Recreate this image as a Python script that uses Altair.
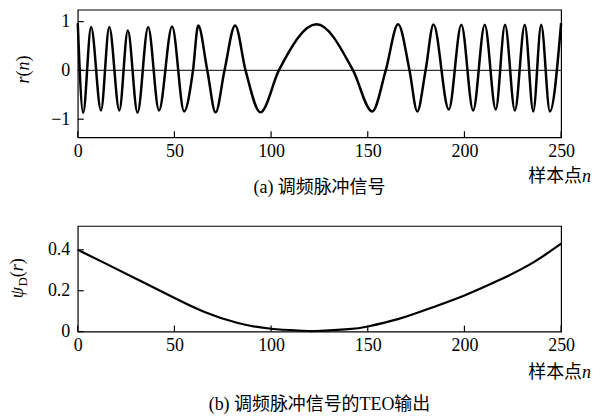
import altair as alt
import pandas as pd

# ---- data ----
# (a) FM pulse signal: positions / values of peaks, troughs and the zero crossings
sig_n = [0, 2.8, 6.9, 12.0, 16.3, 21.5, 25.9, 30.9, 36.4, 42.0, 48.8, 55.0,
         59.6, 62.3, 67.0, 71.3, 75.9, 81.4, 86.8, 94.5, 104.0, 123.5, 142.4,
         152.3, 159.3, 165.7, 171.6, 175.6, 179.9, 184.0, 191.9,
         198.4, 204.5, 210.5, 216.2, 221.0, 226.1, 231.2, 235.6, 239.7, 244.2, 250]
sig_v = [0.97, -0.87, 0.89, -0.82, 0.89, -0.82, 0.82, -0.87, 0.89, -0.82, 0.90, -0.84,
         0.0, 0.92, 0.0, -0.86, 0.0, 0.92, 0.0, -0.86, 0.0, 0.945, 0.0,
         -0.84, 0.0, 0.945, 0.0, -0.84, 0.0, 0.94, -0.80,
         0.935, -0.82, 0.935, -0.80, 0.935, -0.82, 0.935, -0.84, 0.935, -0.84, 0.97]

# (b) TEO output
teo_n = [0, 14, 31, 48.5, 65.6, 82.8, 100, 117, 123, 140, 150, 166, 183, 200, 218, 235, 250]
teo_v = [0.40, 0.335, 0.255, 0.172, 0.096, 0.042, 0.014, 0.004, 0.003, 0.012, 0.025,
         0.062, 0.117, 0.177, 0.252, 0.335, 0.43]

x_ticks = [0, 50, 100, 150, 200, 250]
top_y_ticks = [-1, 0, 1]
bot_y_ticks = [0, 0.2, 0.4]

top_caption = "(a) 调频脉冲信号"
bot_caption = "(b) 调频脉冲信号的TEO输出"
x_title = "样本点"

# ---- styling ----
SERIF = "Liberation Serif"
MIXED = "Liberation Serif, Noto Sans CJK SC"
W = 485
H1 = 128
H2 = 106


def xenc():
    return alt.X("n:Q", scale=alt.Scale(domain=[0, 250], nice=False, zero=False),
                 axis=alt.Axis(values=x_ticks, ticks=False, domain=False, grid=False,
                               labelFont=SERIF, labelFontSize=18, labelColor="black",
                               labelPadding=5, labelFlush=False, title=None, format="d"))


def yenc(domain, ticks):
    return alt.Y("v:Q", scale=alt.Scale(domain=domain, nice=False, zero=False),
                 axis=alt.Axis(values=ticks, ticks=False, domain=False, grid=False,
                               labelFont=SERIF, labelFontSize=18, labelColor="black",
                               labelPadding=8, labelFlush=False, title=None, format=".1~f"))


def txt(s, x, y, size=18, style="normal", angle=0, align="center", font=SERIF):
    return alt.Chart(alt.Data(values=[{}])).mark_text(
        text=s, fontSize=size, font=font, fontStyle=style, angle=angle,
        align=align, baseline="middle", color="black"
    ).encode(x=alt.value(x), y=alt.value(y))


def panel(df, domain, yticks, H, line_w, interp):
    line = alt.Chart(df).mark_line(color="black", strokeWidth=line_w,
                                   interpolate=interp).encode(
        x=xenc(), y=yenc(domain, yticks))
    xt = alt.Chart(pd.DataFrame({"n": x_ticks})).mark_rule(
        color="black", strokeWidth=1.2).encode(
        x=xenc(), y=alt.value(H), y2=alt.value(H - 6))
    yt = alt.Chart(pd.DataFrame({"v": yticks})).mark_rule(
        color="black", strokeWidth=1.2).encode(
        y=yenc(domain, yticks), x=alt.value(0), x2=alt.value(6))
    return line, xt, yt


# ---- top panel ----
top_df = pd.DataFrame({"n": sig_n, "v": sig_v})
top_dom = [-1.37, 1.245]
l1, xt1, yt1 = panel(top_df, top_dom, top_y_ticks, H1, 2.5, "monotone")
zero = alt.Chart(pd.DataFrame({"v": [0]})).mark_rule(
    color="#333333", strokeWidth=1.2).encode(y=yenc(top_dom, top_y_ticks))

top = alt.layer(
    zero, l1, xt1, yt1,
    # y title r(n)
    txt("r", -54, 70.5, style="italic", angle=270),
    txt("(", -54, 64, angle=270),
    txt("n", -54, 56.5, style="italic", angle=270),
    txt(")", -54, 49, angle=270),
    # x title 样本点n
    txt(x_title, 506, 168, font=MIXED, align="right"),
    txt("n", 510.5, 168, style="italic"),
    # caption
    txt(top_caption, W / 2, 179, font=MIXED),
).properties(width=W, height=H1)

# ---- bottom panel ----
bot_df = pd.DataFrame({"n": teo_n, "v": teo_v})
bot_dom = [0, 0.517]
l2, xt2, yt2 = panel(bot_df, bot_dom, bot_y_ticks, H2, 2.2, "natural")

bottom = alt.layer(
    l2, xt2, yt2,
    # y title psi_D(r)
    txt("ψ", -60, 67, style="italic", angle=270),
    txt("D", -55, 56, size=13, angle=270),
    txt("(", -60, 48.5, angle=270),
    txt("r", -60, 42, style="italic", angle=270),
    txt(")", -60, 35.5, angle=270),
    # x title
    txt(x_title, 506, 148, font=MIXED, align="right"),
    txt("n", 510.5, 148, style="italic"),
    # caption
    txt(bot_caption, W / 2, 180, font=MIXED),
).properties(width=W, height=H2)

chart = alt.vconcat(top, bottom, spacing=89, bounds="flush").properties(
    padding={"left": 0, "top": 0, "right": 0, "bottom": 0},
    background="white",
).configure_view(stroke="black", strokeWidth=1.2)

chart.save("out.html", embed_options={"renderer": "svg", "actions": False})
